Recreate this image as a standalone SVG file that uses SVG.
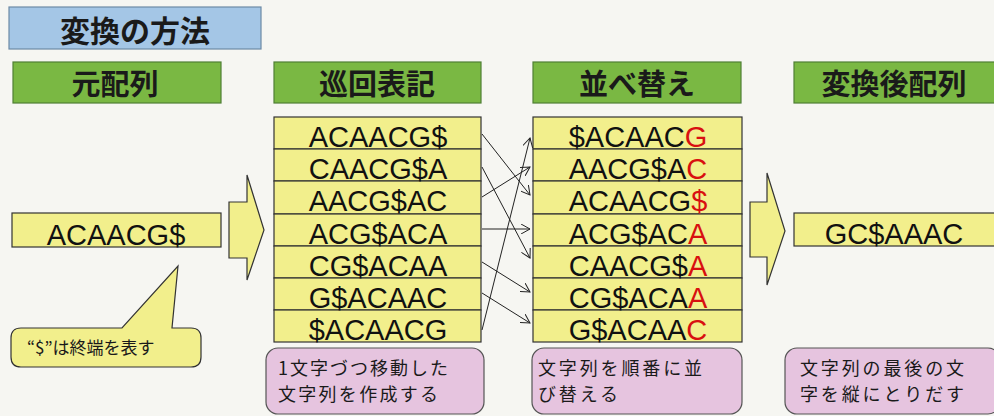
<svg xmlns="http://www.w3.org/2000/svg" width="994" height="416" viewBox="0 0 994 416">
<defs>
<style>
.jp{font-family:"Noto Sans CJK JP","Noto Sans",sans-serif;fill:#1a1a1a}
.hd{font-size:29px;font-weight:bold;text-anchor:middle}
.seq{font-family:"Liberation Sans",Arial,sans-serif;font-size:29px;fill:#111;text-anchor:middle}
.green{fill:#7ab843;stroke:#4f7f35;stroke-width:1.2}
.yel{fill:#f2ef8c;stroke:#333;stroke-width:1.2}
.pink{fill:#e6c4df;stroke:#555;stroke-width:1.2}
.note{font-size:18px}
.red{fill:#d81010}
.conn{stroke:#222;stroke-width:1;fill:none}
</style>
<marker id="ah" markerWidth="10" markerHeight="10" refX="9" refY="5" orient="auto" markerUnits="userSpaceOnUse">
<path d="M0,0 L9,5 L0,10" fill="none" stroke="#222" stroke-width="1"/>
</marker>
</defs>
<rect x="0" y="0" width="994" height="416" fill="#f6f6f2"/>

<g id="title">
<rect x="9" y="7" width="252" height="42" fill="#a4c6e6" stroke="#6d8aa6" stroke-width="1.2"/>
<text class="jp" x="135" y="42" font-size="30" font-weight="bold" text-anchor="middle">変換の方法</text>
</g>

<g id="h-original">
<rect class="green" x="13" y="62" width="208" height="41"/>
<text class="jp hd" x="115" y="95">元配列</text>
</g>
<g id="h-rotation">
<rect class="green" x="274" y="62" width="207" height="41"/>
<text class="jp hd" x="377" y="95">巡回表記</text>
</g>
<g id="h-sort">
<rect class="green" x="533" y="62" width="208" height="41"/>
<text class="jp hd" x="637" y="95">並べ替え</text>
</g>
<g id="h-result">
<rect class="green" x="794" y="62" width="205" height="41"/>
<text class="jp hd" x="894" y="95">変換後配列</text>
</g>

<g id="source">
<rect class="yel" x="12" y="213" width="209" height="34"/>
<text class="seq" x="116" y="245">ACAACG$</text>
</g>

<g id="callout">
<path class="yel" d="M21,328 H122 L178,266 L172,328 H191 Q201,328 201,338 V357 Q201,367 191,367 H21 Q11,367 11,357 V338 Q11,328 21,328 Z"/>
<text class="jp" x="27" y="354" font-size="17">“$”は終端を表す</text>
</g>

<g id="arrow1">
<polygon class="yel" points="229,202 247,202 247,175 264,230 247,280 247,258 229,258"/>
</g>

<g id="rotations">
<rect class="yel" x="274" y="117" width="207" height="32"/>
<rect class="yel" x="274" y="149" width="207" height="32"/>
<rect class="yel" x="274" y="181" width="207" height="33"/>
<rect class="yel" x="274" y="214" width="207" height="32"/>
<rect class="yel" x="274" y="246" width="207" height="32"/>
<rect class="yel" x="274" y="278" width="207" height="32"/>
<rect class="yel" x="274" y="310" width="207" height="32"/>
<text class="seq" x="378" y="147">ACAACG$</text>
<text class="seq" x="378" y="179">CAACG$A</text>
<text class="seq" x="378" y="211">AACG$AC</text>
<text class="seq" x="378" y="244">ACG$ACA</text>
<text class="seq" x="378" y="276">CG$ACAA</text>
<text class="seq" x="378" y="308">G$ACAAC</text>
<text class="seq" x="378" y="340">$ACAACG</text>
</g>

<g id="sorted">
<rect class="yel" x="533" y="117" width="209" height="32"/>
<rect class="yel" x="533" y="149" width="209" height="32"/>
<rect class="yel" x="533" y="181" width="209" height="33"/>
<rect class="yel" x="533" y="214" width="209" height="32"/>
<rect class="yel" x="533" y="246" width="209" height="32"/>
<rect class="yel" x="533" y="278" width="209" height="32"/>
<rect class="yel" x="533" y="310" width="209" height="32"/>
<text class="seq" x="638" y="147" font-size="29.5">$ACAAC<tspan class="red">G</tspan></text>
<text class="seq" x="638" y="179" font-size="29.5">AACG$A<tspan class="red">C</tspan></text>
<text class="seq" x="638" y="211" font-size="29.5">ACAACG<tspan class="red">$</tspan></text>
<text class="seq" x="638" y="244" font-size="29.5">ACG$AC<tspan class="red">A</tspan></text>
<text class="seq" x="638" y="276" font-size="29.5">CAACG$<tspan class="red">A</tspan></text>
<text class="seq" x="638" y="308" font-size="29.5">CG$ACA<tspan class="red">A</tspan></text>
<text class="seq" x="638" y="340" font-size="29.5">G$ACAA<tspan class="red">C</tspan></text>
</g>

<g id="arrow2">
<polygon class="yel" points="750,202 767,202 767,173 785,231 767,285 767,257 750,257"/>
</g>

<g id="result">
<rect class="yel" x="794" y="213" width="205" height="33"/>
<text class="seq" x="894" y="244" font-size="28.5">GC$AAAC</text>
</g>

<g id="note1">
<rect class="pink" x="266" y="348" width="218" height="66" rx="12"/>
<text class="jp note" x="278" y="375" textLength="170" lengthAdjust="spacing">1文字づつ移動した</text>
<text class="jp note" x="278" y="401" textLength="160" lengthAdjust="spacing">文字列を作成する</text>
</g>
<g id="note2">
<rect class="pink" x="532" y="348" width="210" height="66" rx="12"/>
<text class="jp note" x="538" y="375" textLength="164" lengthAdjust="spacing">文字列を順番に並</text>
<text class="jp note" x="538" y="401" textLength="80" lengthAdjust="spacing">び替える</text>
</g>
<g id="note3">
<rect class="pink" x="785" y="348" width="215" height="66" rx="12"/>
<text class="jp note" x="800" y="375" textLength="164" lengthAdjust="spacing">文字列の最後の文</text>
<text class="jp note" x="800" y="401" textLength="164" lengthAdjust="spacing">字を縦にとりだす</text>
</g>

<g id="connectors">
<line class="conn" x1="482" y1="134" x2="530" y2="195" marker-end="url(#ah)"/>
<line class="conn" x1="482" y1="167" x2="530" y2="258" marker-end="url(#ah)"/>
<line class="conn" x1="482" y1="197" x2="530" y2="167" marker-end="url(#ah)"/>
<line class="conn" x1="482" y1="229" x2="530" y2="229" marker-end="url(#ah)"/>
<line class="conn" x1="482" y1="262" x2="530" y2="292" marker-end="url(#ah)"/>
<line class="conn" x1="482" y1="293" x2="530" y2="323" marker-end="url(#ah)"/>
<line class="conn" x1="482" y1="330" x2="530" y2="138" marker-end="url(#ah)"/>
</g>
</svg>
